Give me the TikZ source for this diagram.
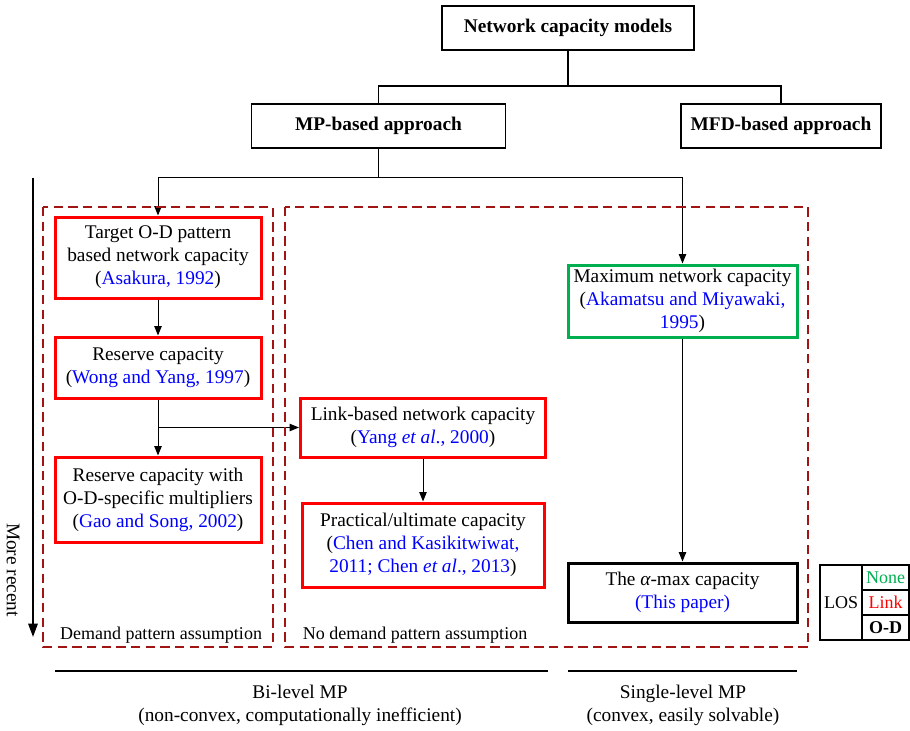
\documentclass[tikz,border=0pt]{standalone}
\usepackage{fontspec}
\setmainfont{Liberation Serif}
\usetikzlibrary{arrows.meta}
\definecolor{citeblue}{RGB}{0,0,255}
\definecolor{losgreen}{RGB}{0,176,80}
\definecolor{dashred}{RGB}{160,20,20}
\newcommand{\refc}[1]{\textcolor{citeblue}{#1}}

\begin{document}
\begin{tikzpicture}[x=0.75pt,y=0.75pt,yscale=-1,xscale=1,
  every node/.style={font=\fontsize{14.5}{17.25}\selectfont, inner sep=0.75pt},
  headbox/.style={draw, line width=0.9pt, minimum height=33pt, font=\fontsize{14.5}{17.25}\selectfont\bfseries},
  linkbox/.style={draw=red, line width=2.25pt, align=center},
  nonebox/.style={draw=losgreen, line width=2.25pt, align=center},
  odbox/.style={draw=black, line width=2.25pt, align=center},
  conn/.style={-{Triangle[length=7pt,width=5.5pt]}, line width=0.75pt},
  tree/.style={line width=0.9pt},
  zone/.style={draw=dashred, line width=1.1pt, dash pattern=on 7pt off 4pt},
  small/.style={font=\fontsize{13.5}{16}\selectfont}]
\useasboundingbox (0,0) rectangle (910,731);
% Head boxes
\node[headbox, minimum width=189pt] (ncm) at (568,28) {Network capacity models};
\node[headbox, minimum width=190pt] (mp) at (378.5,126) {MP-based approach};
\node[headbox, minimum width=150pt] (mfd) at (781,126) {MFD-based approach};
% Model boxes
\node[linkbox, minimum width=154.5pt, minimum height=60.75pt] (target) at (158,257.5) {Target O-D pattern\\based network capacity\\(\refc{Asakura, 1992})};
\node[linkbox, minimum width=154.5pt, minimum height=45.75pt] (reserve) at (158,367.5) {Reserve capacity\\(\refc{Wong and Yang, 1997})};
\node[linkbox, minimum width=154.5pt, minimum height=63.75pt] (reservemult) at (158,499.5) {Reserve capacity with\\O-D-specific multipliers\\(\refc{Gao and Song, 2002})};
\node[linkbox, minimum width=183.75pt, minimum height=44.25pt] (linkcap) at (423,427.5) {Link-based network capacity\\(\refc{Yang \textit{et al}., 2000})};
\node[linkbox, minimum width=181.5pt, minimum height=63pt] (practical) at (423,545) {Practical/ultimate capacity\\(\refc{Chen and Kasikitwiwat,}\\\refc{2011; Chen \textit{et al}., 2013})};
\node[nonebox, minimum width=171.75pt, minimum height=54pt] (maxcap) at (682.5,301) {Maximum network capacity\\(\refc{Akamatsu and Miyawaki,}\\\refc{1995})};
\node[odbox, minimum width=171.75pt, minimum height=44.25pt] (alphamax) at (682.5,592.5) {The {\itshape α}-max capacity\\\refc{(This paper)}};
% Tree
\coordinate (topsplit) at (568,86);
\coordinate (mpsplit) at (378.5,178);
\draw[tree] (ncm.south) -- (topsplit) -| (mp.north);
\draw[tree] (topsplit) -| (mfd.north);
\draw[line width=0.75pt] (mp.south) -- (mpsplit);
\draw[conn] (mpsplit) -| (target.north);
\draw[conn] (mpsplit) -| (maxcap.north);
\draw[conn] (target) -- (reserve);
\draw[conn] (reserve) -- (reservemult);
\draw[conn] (reserve.south |- linkcap.west) -- (linkcap.west);
\draw[conn] (linkcap) -- (practical);
\draw[conn] (maxcap) -- (alphamax);
% Assumption zones
\draw[zone] (43,207) rectangle (273,647);
\draw[zone] (285,207) rectangle (808,647);
\node[small] (demandlabel) at (161,635) {Demand pattern assumption};
\node[small] (nodemandlabel) at (415,635) {No demand pattern assumption};
% Time axis
\coordinate (recenttop) at (33,178);
\coordinate (recentbottom) at (33,637);
\draw[line width=1.5pt, -{Triangle[length=10pt,width=7pt]}] (recenttop) -- (recentbottom);
\node[rotate=-90] (recent) at (13,570) {More recent};
% Levels
\coordinate (bileft) at (55,671);
\coordinate (biright) at (548,671);
\coordinate (singleleft) at (568,671);
\coordinate (singleright) at (797,671);
\draw[line width=1.5pt] (bileft) -- (biright);
\draw[line width=1.5pt] (singleleft) -- (singleright);
\node[align=center] (bilevel) at (300,705) {Bi-level MP\\(non-convex, computationally inefficient)};
\node[align=center] (singlelevel) at (683,705) {Single-level MP\\(convex, easily solvable)};
% LOS legend
\draw[line width=1pt] (820,565) rectangle (909,640);
\draw[line width=1pt] (862,565) -- (862,640);
\draw[line width=1pt] (862,590) -- (909,590);
\draw[line width=1pt] (862,615) -- (909,615);
\node[small] (los) at (841,602.5) {LOS};
\node[small, text=losgreen] (losnone) at (885.5,577.5) {None};
\node[small, text=red] (loslink) at (885.5,602.5) {Link};
\node[small, font=\fontsize{13.5}{16}\selectfont\bfseries] (losod) at (885.5,627.5) {O-D};
\end{tikzpicture}
\end{document}
